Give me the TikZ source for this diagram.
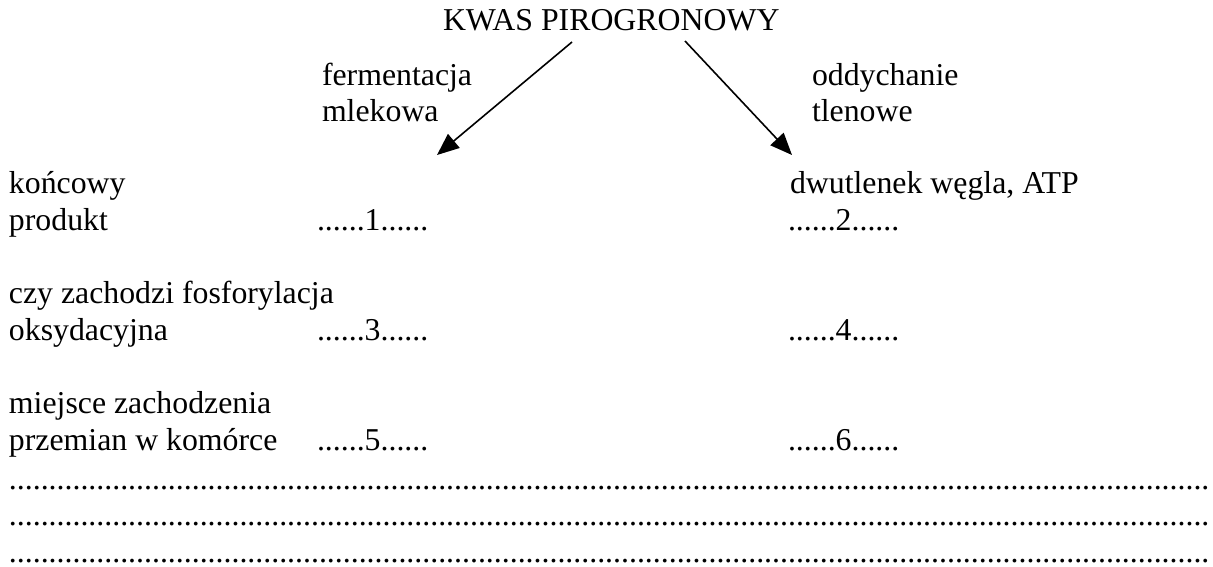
\documentclass[tikz,border=0pt]{standalone}
\usepackage{fontspec}
\setmainfont{Liberation Serif}
\usetikzlibrary{arrows.meta}

% a row of n periods
\newcount\dotcnt
\newcommand\periodrow[1]{\dotcnt=0 \loop\ifnum\dotcnt<#1 .\advance\dotcnt by 1 \repeat}

\begin{document}
\begin{tikzpicture}[x=1pt,y=-1pt,
  txt/.style={anchor=base west,inner sep=0pt,outer sep=0pt,
    font=\fontsize{31.8pt}{36.6pt}\selectfont},
  flow/.style={line width=1.6pt,-{Triangle[length=22pt,width=18pt]}}]
\useasboundingbox (0,0) rectangle (1213,566);

% title and the two pathways
\node[txt] (kwas) at (443,30.5) {KWAS PIROGRONOWY};
\node[txt] (ferm1) at (322,85) {fermentacja};
\node[txt] (ferm2) at (322,121) {mlekowa};
\node[txt] (odd1) at (812,85) {oddychanie};
\node[txt] (odd2) at (812,121) {tlenowe};

\coordinate (lstart) at (572,42);
\coordinate (lend) at (437,155);
\coordinate (rstart) at (685,41);
\coordinate (rend) at (792,155);
\draw[flow] (lstart) -- (lend);
\draw[flow] (rstart) -- (rend);

% row 1
\node[txt] (r1a) at (9,193) {końcowy};
\node[txt] (r1b) at (9,230) {produkt};
\node[txt] (a1) at (317,230) {......1......};
\node[txt] (co2) at (790,193) {dwutlenek węgla, ATP};
\node[txt] (a2) at (788,230) {......2......};

% row 2
\node[txt] (r2a) at (9,303.5) {czy zachodzi fosforylacja};
\node[txt] (r2b) at (9,340) {oksydacyjna};
\node[txt] (a3) at (317,340) {......3......};
\node[txt] (a4) at (788,340) {......4......};

% row 3
\node[txt] (r3a) at (9,413) {miejsce zachodzenia};
\node[txt] (r3b) at (9,450) {przemian w komórce};
\node[txt] (a5) at (317,450) {......5......};
\node[txt] (a6) at (788,450) {......6......};

% answer lines
\node[txt] (l1) at (9,489) {\periodrow{151}};
\node[txt] (l2) at (9,525.5) {\periodrow{151}};
\node[txt] (l3) at (9,562) {\periodrow{151}};
\end{tikzpicture}
\end{document}
